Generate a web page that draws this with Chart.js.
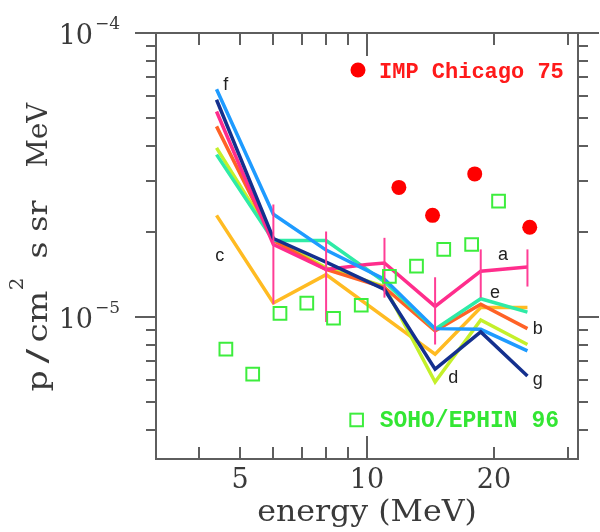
<!DOCTYPE html>
<html>
<head>
<meta charset="utf-8">
<script src="https://cdn.jsdelivr.net/npm/chart.js@4.4.1/dist/chart.umd.min.js"></script>
<style>
  html, body { margin: 0; padding: 0; background: #fff; }
  #wrap { width: 600px; height: 532px; }
</style>
</head>
<body>
<div id="wrap"><canvas id="chart" width="600" height="532"></canvas></div>
<script>
// energies (MeV) where the model curves have points
const energies = [4.4, 6, 8, 11, 14.5, 18.6, 24];
const energiesA = [4.4, 6, 8, 10, 11, 14.5, 18.6, 24];
const energiesC = [4.4, 6, 8, 14.5, 18.6, 24];

// model curves a..g, flux in p/cm2 s sr MeV
const curveA = [5.29e-5, 1.80e-5, 1.47e-5, 1.53e-5, 1.55e-5, 1.09e-5, 1.45e-5, 1.50e-5];
const curveB = [4.69e-5, 1.86e-5, 1.47e-5, 1.27e-5, 8.93e-6, 1.11e-5, 9.1e-6];
const curveC = [2.28e-5, 1.12e-5, 1.41e-5, 7.4e-6, 1.08e-5, 1.08e-5];
const curveD = [3.94e-5, 1.88e-5, 1.49e-5, 1.28e-5, 5.9e-6, 9.76e-6, 8.0e-6];
const curveE = [3.73e-5, 1.86e-5, 1.86e-5, 1.33e-5, 9.05e-6, 1.16e-5, 1.04e-5];
const curveF = [6.34e-5, 2.30e-5, 1.72e-5, 1.36e-5, 9.1e-6, 9.05e-6, 7.6e-6];
const curveG = [5.82e-5, 1.89e-5, 1.56e-5, 1.25e-5, 6.55e-6, 8.86e-6, 6.2e-6];

// error bars on curve a
const errEnergy = [6, 8, 11, 14.5, 18.6, 24];
const errLow = [1.11e-5, 9.6e-6, 1.17e-5, 8.0e-6, 1.17e-5, 1.28e-5];
const errHigh = [2.49e-5, 2.0e-5, 1.90e-5, 1.38e-5, 1.73e-5, 1.73e-5];

// measurements
const impEnergy = [11.9, 14.3, 18.0, 24.3];
const impFlux = [2.86e-5, 2.28e-5, 3.19e-5, 2.07e-5];
const sohoEnergy = [4.63, 5.36, 6.22, 7.2, 8.33, 9.69, 11.3, 13.1, 15.2, 17.7, 20.5];
const sohoFlux = [7.7e-6, 6.29e-6, 1.03e-5, 1.12e-5, 9.9e-6, 1.10e-5, 1.39e-5, 1.51e-5, 1.73e-5, 1.80e-5, 2.56e-5];

// axis ticks
const xTickLabels = [5, 10, 20];
const xMinorTicks = [4, 5, 6, 7, 8, 9, 20, 30];
const xMajorTicks = [10];
const yMinorTicks = [4e-6, 5e-6, 6e-6, 7e-6, 8e-6, 9e-6, 2e-5, 3e-5, 4e-5, 5e-5, 6e-5, 7e-5, 8e-5, 9e-5];
const yMajorTicks = [1e-5, 1e-4];

const points = (xs, ys) => xs.map((x, i) => ({ x: x, y: ys[i] }));

function curve(xs, ys, color) {
  return {
    data: points(xs, ys),
    showLine: true,
    borderColor: color,
    borderWidth: 3.5,
    pointRadius: 0,
    tension: 0,
    fill: false
  };
}

const errorBars = errEnergy.map((e, i) => ({
  data: [{ x: e, y: errLow[i] }, { x: e, y: errHigh[i] }],
  showLine: true,
  borderColor: "#ff3d96",
  borderWidth: 2,
  pointRadius: 0
}));

const datasets = [
  {
    data: points(sohoEnergy, sohoFlux),
    pointStyle: "rect",
    pointRadius: 9,
    pointBorderWidth: 2,
    pointBorderColor: "#3ded3d",
    pointBackgroundColor: "rgba(0,0,0,0)"
  },
  {
    data: points(impEnergy, impFlux),
    pointStyle: "circle",
    pointRadius: 7.5,
    pointBorderWidth: 0,
    pointBackgroundColor: "#ff0000"
  },
  ...errorBars,
  curve(energies, curveG, "#14308e"),
  curve(energies, curveF, "#1e9bff"),
  curve(energiesA, curveA, "#ff2d8c"),
  curve(energies, curveE, "#2eeba6"),
  curve(energies, curveB, "#ff6226"),
  curve(energies, curveD, "#c4f02a"),
  curve(energiesC, curveC, "#ffbb22")
];

// frame, tick marks, exponent labels, titles, curve letters, legend
const decor = {
  id: "decor",
  afterDraw(chart) {
    const { ctx, chartArea: a, scales } = chart;
    const x = scales.x, y = scales.y;
    ctx.save();

    ctx.strokeStyle = "#5e5e5e";
    ctx.lineWidth = 2;
    ctx.strokeRect(a.left, a.top, a.right - a.left, a.bottom - a.top);

    ctx.beginPath();
    const xTick = (v, len) => {
      const px = Math.round(x.getPixelForValue(v));
      ctx.moveTo(px, a.top); ctx.lineTo(px, a.top + len);
      ctx.moveTo(px, a.bottom); ctx.lineTo(px, a.bottom - len);
    };
    xMinorTicks.forEach(v => xTick(v, 12));
    xMajorTicks.forEach(v => xTick(v, 23));
    const yTick = (v, len) => {
      const py = Math.round(y.getPixelForValue(v));
      ctx.moveTo(a.left, py); ctx.lineTo(a.left - len, py);
      ctx.moveTo(a.right, py); ctx.lineTo(a.right + len, py);
    };
    yMinorTicks.forEach(v => yTick(v, 10));
    yMajorTicks.forEach(v => yTick(v, 21));
    ctx.stroke();

    // 10^n labels on the y axis
    ctx.fillStyle = "#3a3a3a";
    yMajorTicks.forEach(v => {
      const py = y.getPixelForValue(v);
      ctx.font = "27px 'DejaVu Serif'";
      ctx.textAlign = "right";
      ctx.textBaseline = "alphabetic";
      ctx.fillText("10", a.left - 63, py + 11);
      ctx.font = "17px 'DejaVu Serif'";
      ctx.textAlign = "left";
      ctx.fillText("\u2212" + Math.abs(Math.round(Math.log10(v))), a.left - 61, py - 4);
    });

    // x title
    ctx.save();
    ctx.translate((a.left + a.right) / 2, a.bottom + 62);
    ctx.scale(1.09, 1);
    ctx.font = "29px 'DejaVu Serif'";
    ctx.textAlign = "center";
    ctx.textBaseline = "alphabetic";
    ctx.fillText("energy (MeV)", 0, 0);
    ctx.restore();

    // y title, read bottom to top
    ctx.save();
    ctx.translate(46.5, (a.top + a.bottom) / 2 + 146);
    ctx.rotate(-Math.PI / 2);
    ctx.textAlign = "center";
    ctx.textBaseline = "alphabetic";
    [["p", 11, 27.5, 0, 1.2], ["/", 36, 27.5, 0, 1.6], ["cm", 75.5, 27.5, 0, 1.25], ["2", 108, 18, -23.5, 1.1],
     ["s", 142, 27.5, 0, 1.2], ["sr", 176, 27.5, 0, 1.15], ["MeV", 257, 27.5, 0, 1.0]].forEach(([t, d, size, dy, sx]) => {
      ctx.save();
      ctx.translate(d, dy);
      ctx.scale(sx, 1);
      ctx.font = size + "px 'DejaVu Serif'";
      ctx.fillText(t, 0, 0);
      ctx.restore();
    });
    ctx.restore();

    // curve letters
    ctx.fillStyle = "#222";
    ctx.font = "18px 'Liberation Sans'";
    ctx.textAlign = "center";
    ctx.textBaseline = "middle";
    [["f", 4.63, 6.56e-5], ["c", 4.48, 1.64e-5], ["a", 21.0, 1.65e-5], ["e", 20.1, 1.215e-5],
     ["b", 25.4, 9.07e-6], ["d", 16.0, 6.1e-6], ["g", 25.4, 6.0e-6]].forEach(([t, e, f]) => {
      ctx.fillText(t, x.getPixelForValue(e), y.getPixelForValue(f));
    });

    // legend
    let mx = x.getPixelForValue(9.52), my = y.getPixelForValue(7.41e-5);
    ctx.fillStyle = "#ff0000";
    ctx.beginPath();
    ctx.arc(mx, my, 7.5, 0, Math.PI * 2);
    ctx.fill();
    ctx.fillStyle = "#ff1a1a";
    ctx.font = "bold 22px 'Liberation Mono'";
    ctx.textAlign = "left";
    ctx.textBaseline = "alphabetic";
    ctx.fillText("IMP Chicago 75", mx + 21, my + 8);

    mx = x.getPixelForValue(9.45); my = y.getPixelForValue(4.34e-6);
    ctx.strokeStyle = "#3ded3d";
    ctx.lineWidth = 2;
    ctx.strokeRect(mx - 6.3, my - 6.3, 12.6, 12.6);
    ctx.fillStyle = "#33e633";
    ctx.font = "bold 23px 'Liberation Mono'";
    ctx.fillText("SOHO/EPHIN 96", mx + 23, my + 7);

    ctx.restore();
  }
};

new Chart(document.getElementById("chart"), {
  type: "scatter",
  data: { datasets: datasets },
  options: {
    responsive: false,
    animation: false,
    layout: { padding: { top: 33, right: 22, left: 0, bottom: 0 } },
    plugins: {
      legend: { display: false },
      tooltip: { enabled: false }
    },
    scales: {
      x: {
        type: "logarithmic",
        min: Math.sqrt(10),
        max: 10 * Math.sqrt(10),
        afterFit: (scale) => { scale.height = 73; },
        afterBuildTicks: (scale) => { scale.ticks = xTickLabels.map(v => ({ value: v })); },
        grid: { display: false, drawTicks: false },
        border: { display: false },
        ticks: {
          autoSkip: false,
          maxRotation: 0,
          padding: 6,
          color: "#3a3a3a",
          font: { family: "'DejaVu Serif'", size: 27 },
          callback: (v) => String(v)
        }
      },
      y: {
        type: "logarithmic",
        min: Math.pow(10, -5.5),
        max: 1e-4,
        afterFit: (scale) => { scale.width = 156; },
        grid: { display: false, drawTicks: false },
        border: { display: false },
        ticks: { display: false }
      }
    }
  },
  plugins: [decor]
});
</script>
</body>
</html>
